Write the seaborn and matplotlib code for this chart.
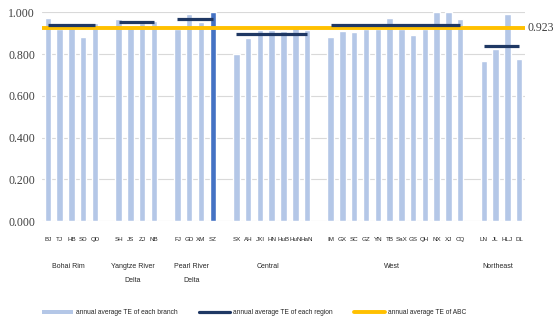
import numpy as np
import pandas as pd
import matplotlib
matplotlib.use("Agg")
import matplotlib.pyplot as plt
import matplotlib.transforms as mtransforms
from matplotlib.patches import Patch
from matplotlib.lines import Line2D
import seaborn as sns

# ---------------- data ----------------
regions = ["Bohai Rim", "Yangtze River\nDelta", "Pearl River\nDelta", "Central", "West", "Northeast"]
branches = [
    ["BJ", "TJ", "HB", "SD", "QD"],
    ["SH", "JS", "ZJ", "NB"],
    ["FJ", "GD", "XM", "SZ"],
    ["SX", "AH", "JXI", "HN", "HuB", "HuN", "HaN"],
    ["IM", "GX", "SC", "GZ", "YN", "TB", "SaX", "GS", "QH", "NX", "XJ", "CQ"],
    ["LN", "JL", "HLJ", "DL"],
]
branch_te = [
    [0.971, 0.922, 0.947, 0.881, 0.950],
    [0.966, 0.926, 0.950, 0.957],
    [0.921, 0.990, 0.953, 1.000],
    [0.801, 0.877, 0.915, 0.915, 0.910, 0.934, 0.915],
    [0.881, 0.910, 0.905, 0.918, 0.918, 0.974, 0.918, 0.893, 0.918, 1.000, 1.000, 0.970],
    [0.766, 0.825, 0.990, 0.777],
]
region_te = [0.939, 0.953, 0.970, 0.897, 0.940, 0.838]
abc_te = 0.923
highlight = "SZ"
yticks = [0.0, 0.2, 0.4, 0.6, 0.8, 1.0]

LIGHT = "#B4C7E7"
DARK = "#4472C4"
NAVY = "#1F3864"
GOLD = "#FFC000"

# ---------------- layout ----------------
rows = []
group_pos = []
p = 0
for reg, names, vals in zip(regions, branches, branch_te):
    ps = []
    for n, v in zip(names, vals):
        rows.append({"pos": p, "te": v, "name": n, "hl": n == highlight})
        ps.append(p)
        p += 1
    group_pos.append(ps)
    p += 1  # gap slot
df = pd.DataFrame(rows)

sns.set_theme(style="white")
narrow = ["Liberation Sans", "DejaVu Sans"]
serif = ["Liberation Serif", "DejaVu Serif"]

fig = plt.figure(figsize=(5.53, 3.21), dpi=100)
ax = fig.add_axes([42 / 553, 1 - 221 / 321, (525 - 42) / 553, (221 - 12.3) / 321])

sns.barplot(data=df, x="pos", y="te", hue="hl", palette={False: LIGHT, True: DARK},
            native_scale=True, dodge=False, width=0.55, legend=False, ax=ax,
            errorbar=None, saturation=1, zorder=2)

for ps, rv in zip(group_pos, region_te):
    ax.hlines(rv, ps[0], ps[-1], color=NAVY, lw=2.3, zorder=4)
ax.axhline(abc_te, color=GOLD, lw=2.8, zorder=3)

ax.set_xlim(-0.5, p - 1.5)
ax.set_ylim(0, 1.0)
ax.set_yticks(yticks)
ax.set_yticklabels([f"{t:.3f}" for t in yticks], family=serif, fontsize=8.5, color="#404040")
ax.yaxis.grid(True, color="#D9D9D9", lw=0.8, zorder=0)
ax.set_axisbelow(True)
for s in ax.spines.values():
    s.set_visible(False)
ax.set_xticks(df["pos"])
ax.set_xticklabels(df["name"], family=narrow, fontsize=4.5, color="#262626")
ax.tick_params(axis="x", length=0, pad=11.5)
ax.tick_params(axis="y", length=0, pad=5)
ax.set_xlabel("")
ax.set_ylabel("")

trans = mtransforms.blended_transform_factory(ax.transData, ax.transAxes)
for ps, reg in zip(group_pos, regions):
    ax.text((ps[0] + ps[-1]) / 2 - 0.3, -0.2, reg, transform=trans, ha="center", va="top",
            family=narrow, fontsize=5.0, color="#262626", linespacing=2.5)

ax.text(1.006, abc_te, f"{abc_te:.3f}", transform=mtransforms.blended_transform_factory(ax.transAxes, ax.transData),
        ha="left", va="center", family=serif, fontsize=8.5, color="#404040", clip_on=False)

handles = [
    Patch(facecolor=LIGHT, edgecolor="none", label="annual average TE of each branch"),
    Line2D([0], [0], color=NAVY, lw=2.3, label="annual average TE of each region"),
    Line2D([0], [0], color=GOLD, lw=2.8, label="annual average TE of ABC"),
]
leg = fig.legend(handles=handles, loc="center", bbox_to_anchor=(0.46, 1 - 313 / 321), ncol=3,
                 frameon=False, prop={"family": narrow, "size": 4.8}, handlelength=4.6,
                 handleheight=0.6, handletextpad=0.5, columnspacing=3.2)

fig.savefig("out.png", dpi=100)
